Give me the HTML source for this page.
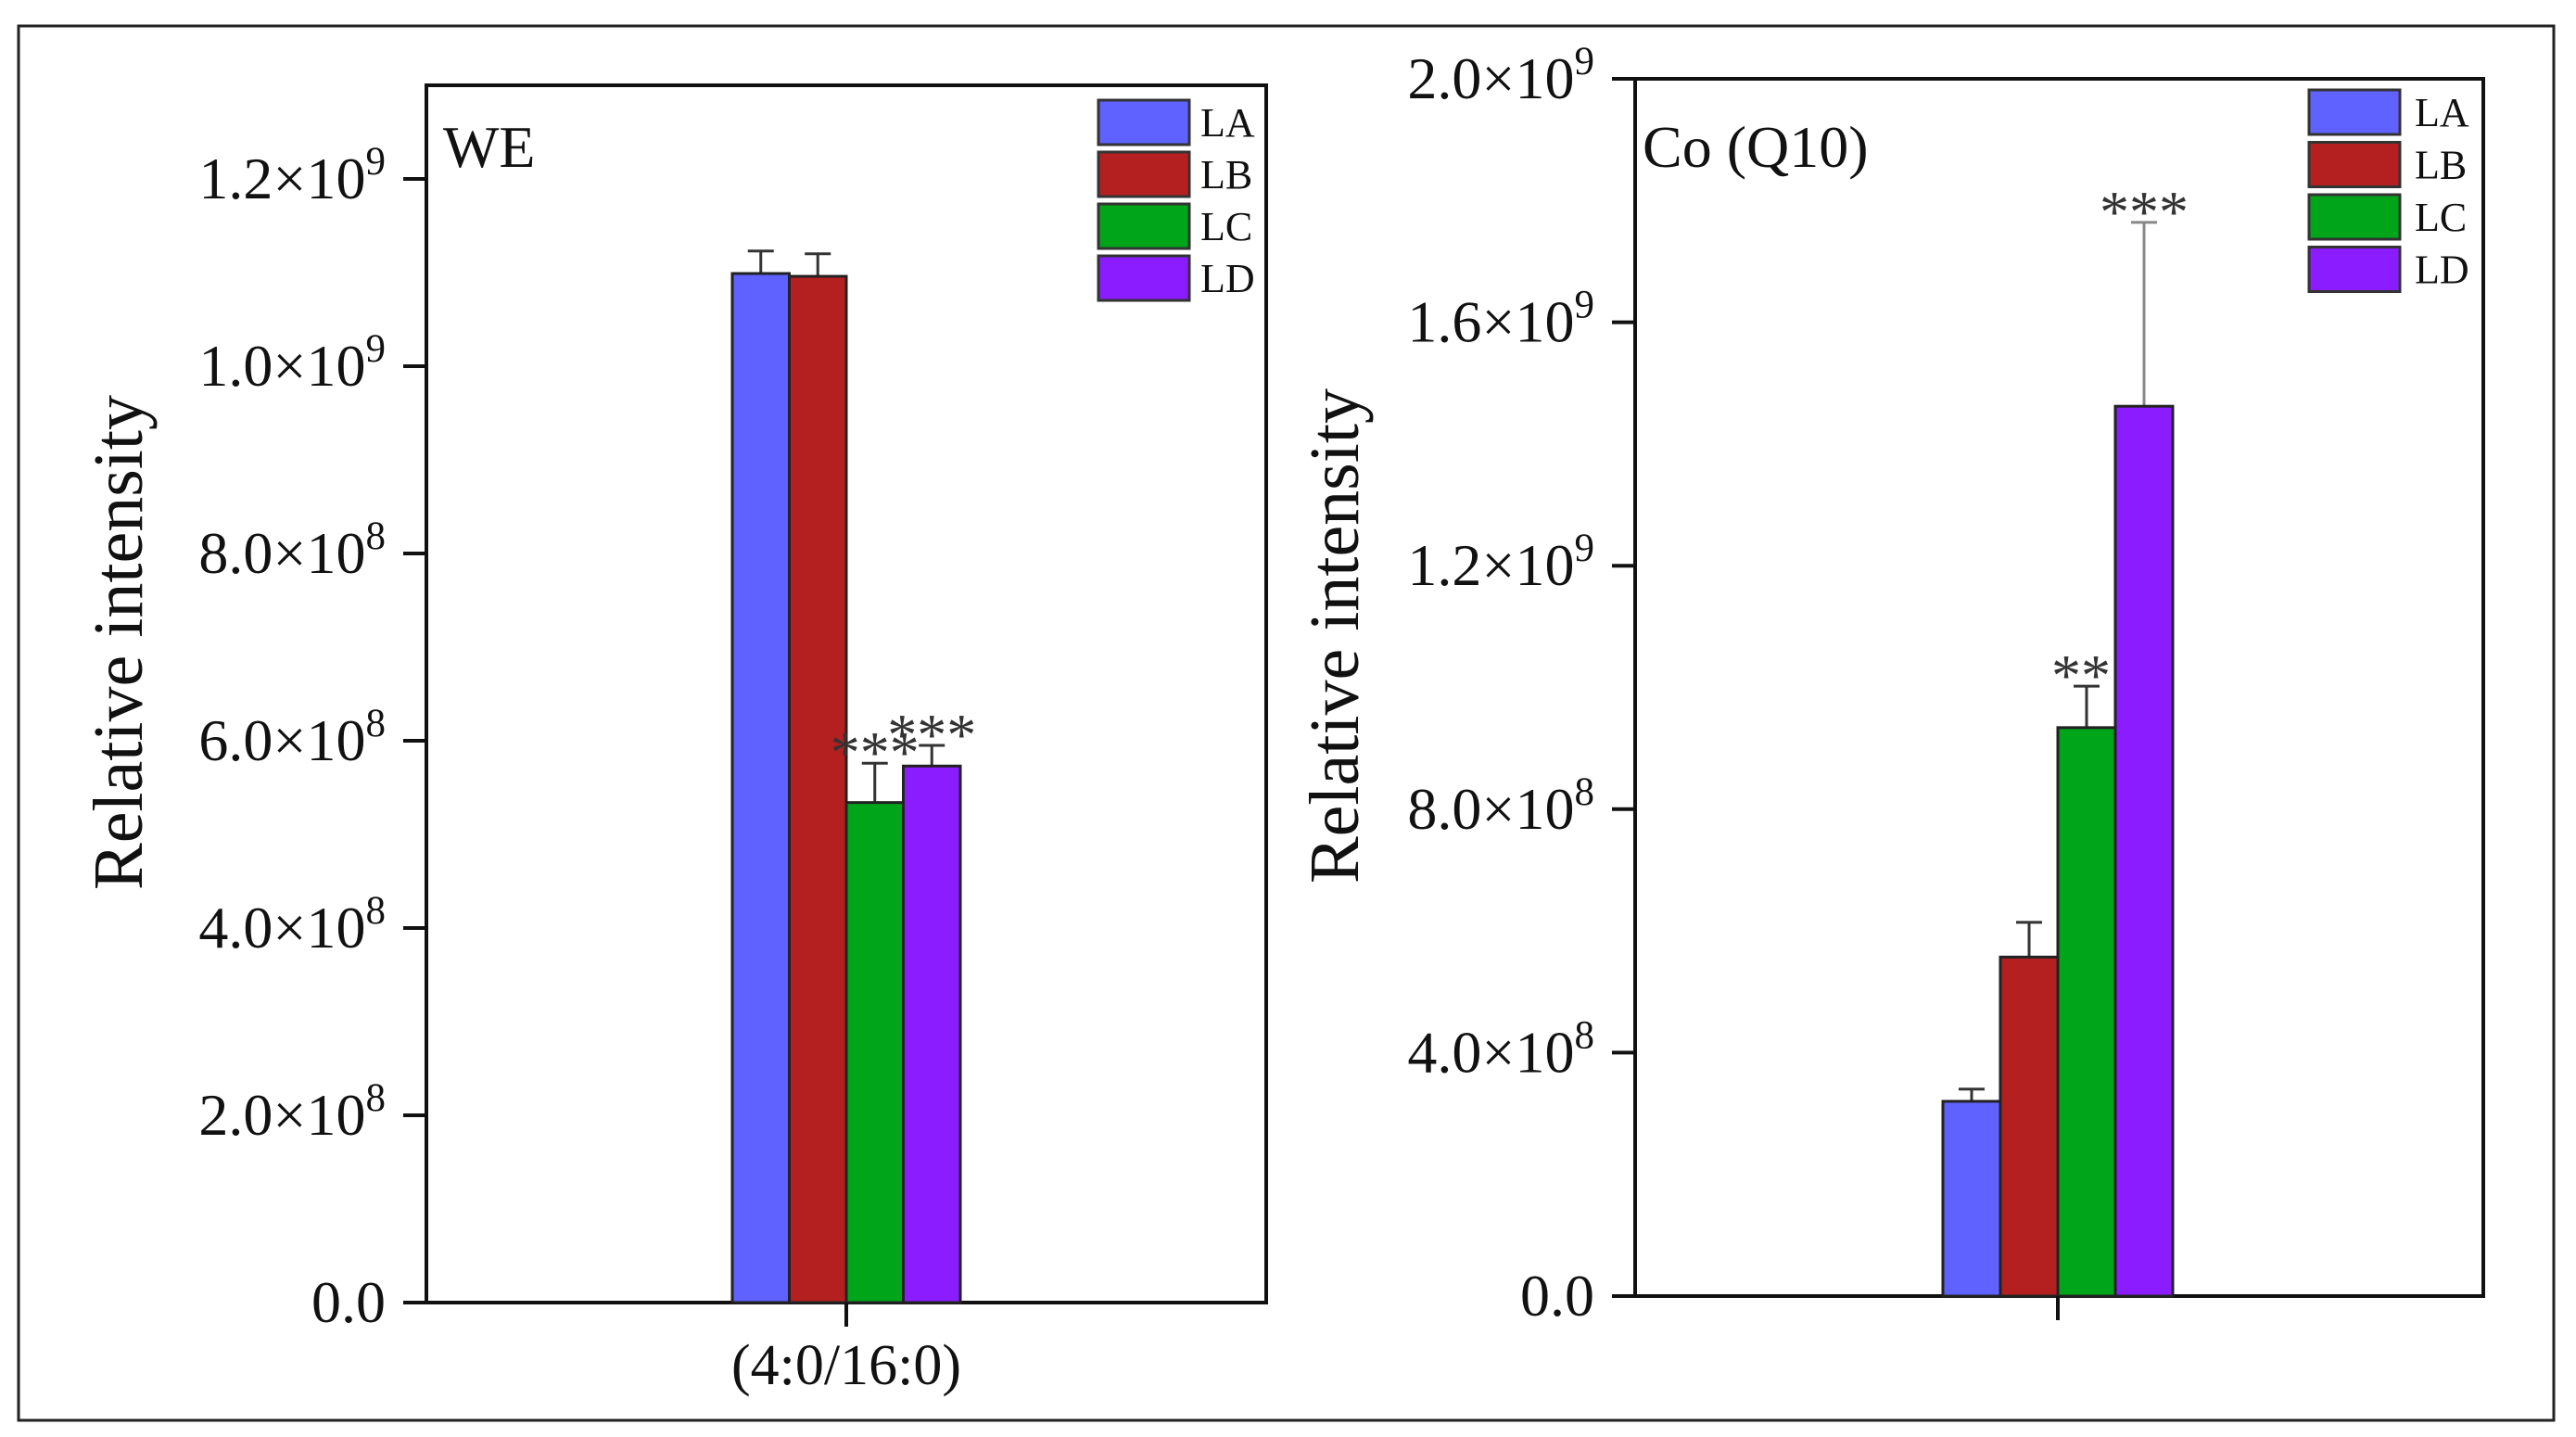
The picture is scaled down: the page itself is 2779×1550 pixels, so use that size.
<!DOCTYPE html>
<html><head><meta charset="utf-8"><style>
html,body{margin:0;padding:0;background:#fff;}
svg{display:block;font-family:"Liberation Serif",serif;}
</style></head><body>
<svg id="fig" width="2779" height="1550" viewBox="0 0 2779 1550">
<rect x="20" y="28" width="2735" height="1504" fill="#fff" stroke="#222" stroke-width="3"/>
<g id="p1"></g>
<g id="p2"></g>
</svg>
<script>
const seriesNames = ["LA","LB","LC","LD"];
const colors = ["#5f62ff","#b42020","#00a51a","#8a1cff"];
const weValues = [1.099e9, 1.096e9, 0.534e9, 0.573e9];
const weErrors = [0.024e9, 0.024e9, 0.042e9, 0.022e9];
const weStars = ["", "", "***", "***"];
const weTicks = [0, 2e8, 4e8, 6e8, 8e8, 1.0e9, 1.2e9];
const weTickLabels = [["0.0",""],["2.0×10","8"],["4.0×10","8"],["6.0×10","8"],["8.0×10","8"],["1.0×10","9"],["1.2×10","9"]];
const coValues = [0.32e9, 0.557e9, 0.934e9, 1.462e9];
const coErrors = [0.02e9, 0.057e9, 0.068e9, 0.302e9];
const coStars = ["", "", "**", "***"];
const coTicks = [0, 4e8, 8e8, 1.2e9, 1.6e9, 2.0e9];
const coTickLabels = [["0.0",""],["4.0×10","8"],["8.0×10","8"],["1.2×10","9"],["1.6×10","9"],["2.0×10","9"]];
const NS="http://www.w3.org/2000/svg";
function mk(parent, tag, attrs, text){
  const e=document.createElementNS(NS,tag);
  for(const k in attrs) e.setAttribute(k,attrs[k]);
  if(text!==undefined) e.textContent=text;
  parent.appendChild(e); return e;
}
function panel(g, cfg){
  const {x0,x1,y0,y1,ymax,values,errors,stars,ticks,labels,center,barW,title,xlabel,titleX,titleY,legX,legLabelX,legY,legH,legStep,ylabX,ylabY,errColors}=cfg;
  const ys=v=>y1-(v/ymax)*(y1-y0);
  const frame=mk(g,'rect',{x:x0,y:y0,width:x1-x0,height:y1-y0,fill:'none',stroke:'#111','stroke-width':4});
  
  
  ticks.forEach((t,i)=>{
    const y=ys(t);
    const tk=mk(g,'line',{x1:x0-25,x2:x0,y1:y,y2:y,stroke:'#111','stroke-width':4});
    
    
    const tx=mk(g,'text',{x:x0-44,y:y+21,'text-anchor':'end','font-size':64,fill:'#111'});
    
    
    mk(tx,'tspan',{},labels[i][0]);
    if(labels[i][1]) mk(tx,'tspan',{dy:-26,'font-size':43},labels[i][1]);
  });
  const n=values.length;
  const left=center-barW*n/2;
  values.forEach((v,i)=>{
    const bx=left+i*barW, by=ys(v);
    const ec=errColors[i];
    const et=ys(v+errors[i]);
    const el=mk(g,'line',{x1:bx+barW/2,x2:bx+barW/2,y1:by,y2:et,stroke:ec,'stroke-width':3});
    
    
    const ecap=mk(g,'line',{x1:bx+barW/2-14,x2:bx+barW/2+14,y1:et,y2:et,stroke:ec,'stroke-width':3});
    
    
    const r=mk(g,'rect',{x:bx,y:by,width:barW,height:y1-by,fill:colors[i],stroke:'#222','stroke-width':3});
    
    
    if(stars[i]){
      const s=mk(g,'text',{x:bx+barW/2+(i===2&&cfg.shiftStar?-6:0),y:et+10,'text-anchor':'middle','font-size':64,fill:'#333'},stars[i]);
      
      
    }
  });
  const xt=mk(g,'line',{x1:center,x2:center,y1:y1,y2:y1+26,stroke:'#111','stroke-width':4});
  
  
  if(xlabel){
    const xl=mk(g,'text',{x:center,y:y1+88,'text-anchor':'middle','font-size':62,fill:'#111'},xlabel);
    
    
  }
  const tt=mk(g,'text',{x:titleX,y:titleY,'font-size':64,fill:'#111'},title);
  
  
  const yl=mk(g,'text',{x:ylabX,y:ylabY,'text-anchor':'middle','font-size':76,fill:'#111',transform:`rotate(-90 ${ylabX} ${ylabY})`},'Relative intensity');
  
  
  seriesNames.forEach((nm,i)=>{
    const ly=legY+i*legStep;
    const lr=mk(g,'rect',{x:legX,y:ly,width:98,height:legH,fill:colors[i],stroke:'#333','stroke-width':3});
    
    
    const lt=mk(g,'text',{x:legLabelX,y:ly+legH/2+15,'font-size':44,fill:'#111'},nm);
    
    
  });
}
panel(document.getElementById('p1'),{x0:460,x1:1366,y0:92,y1:1405,ymax:1.3e9,values:weValues,errors:weErrors,stars:weStars,ticks:weTicks,labels:weTickLabels,center:913,barW:61.5,title:'WE',xlabel:'(4:0/16:0)',titleX:478,titleY:180,legX:1185,legLabelX:1295,legY:108,legH:48,legStep:56,ylabX:153,ylabY:693,errColors:['#333','#333','#333','#333']});
panel(document.getElementById('p2'),{x0:1764,x1:2679,y0:85,y1:1398,ymax:2.0e9,values:coValues,errors:coErrors,stars:coStars,ticks:coTicks,labels:coTickLabels,center:2220,barW:62,title:'Co (Q10)',xlabel:'',titleX:1772,titleY:180,legX:2491,legLabelX:2605,legY:97,legH:48,legStep:56.5,ylabX:1465,ylabY:686,errColors:['#333','#333','#333','#888'],shiftStar:true});
</script>
</body></html>
